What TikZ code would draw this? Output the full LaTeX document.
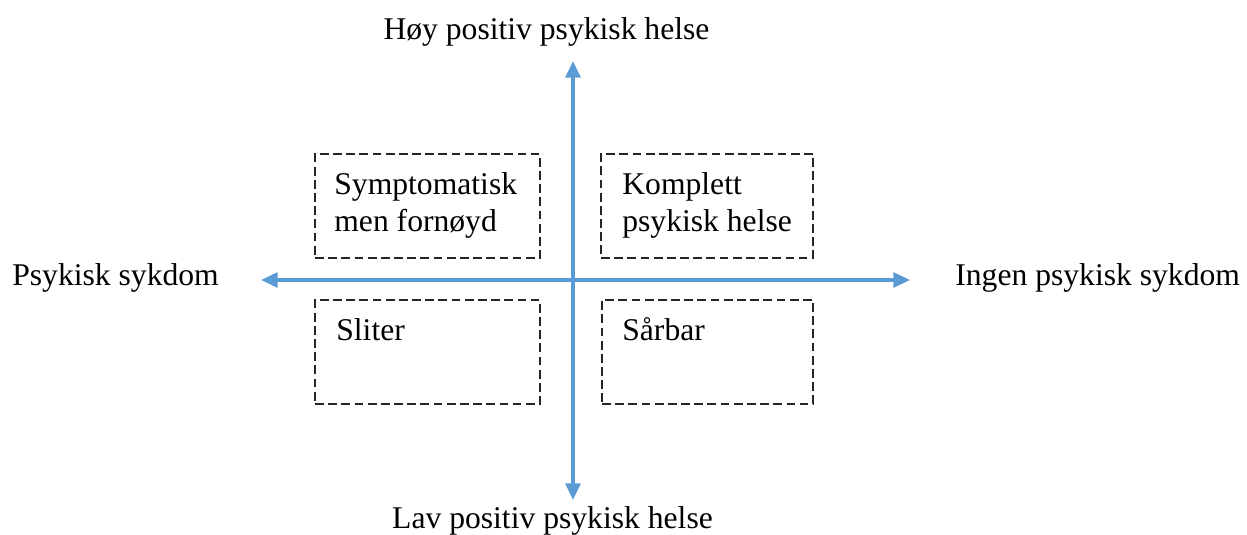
\documentclass[tikz,border=0pt]{standalone}
\usepackage{fontspec}
\setmainfont{Liberation Serif}
\usetikzlibrary{arrows.meta}
\definecolor{axisblue}{RGB}{91,155,213}

\begin{document}
\begin{tikzpicture}[x=0.02cm, y=-0.02cm,
	every node/.style={font=\fontsize{18}{20.7}\selectfont, inner sep=0},
	axis/.style={line width=1.8pt, color=axisblue, {Triangle[length=9.5pt, width=8.5pt]}-{Triangle[length=9.5pt, width=8.5pt]}},
	quadrant/.style={draw=black!85, line width=0.75pt, dash pattern=on 5pt off 2.5pt, minimum height=2.08cm}]
\useasboundingbox (0, 0) rectangle (1247, 534);
% axes
\coordinate (top) at (573, 61);
\coordinate (bottom) at (573, 500);
\coordinate (left) at (261, 280);
\coordinate (right) at (910, 280);
\draw[axis] (bottom) -- (top);
\draw[axis] (left) -- (right);
\node[anchor=base] (high) at (546.5, 39) {Høy positiv psykisk helse};
\node[anchor=base] (low) at (552.5, 528) {Lav positiv psykisk helse};
\node[anchor=base west] (ill) at (12, 285) {Psykisk sykdom};
\node[anchor=base west] (notill) at (955, 285) {Ingen psykisk sykdom};
% quadrants
\node[quadrant, minimum width=4.5cm] (symp) at (427.5, 206) {};
\node[quadrant, minimum width=4.24cm] (complete) at (707, 206) {};
\node[quadrant, minimum width=4.5cm] (struggle) at (427.5, 352) {};
\node[quadrant, minimum width=4.22cm] (vulnerable) at (707.5, 352) {};
% last line sits on the base anchor
\node[anchor=base west, align=left] (symptext) at (334, 231) {Symptomatisk\\men fornøyd};
\node[anchor=base west, align=left] (completetext) at (622, 231) {Komplett\\psykisk helse};
\node[anchor=base west] (struggletext) at (336, 340) {Sliter};
\node[anchor=base west] (vulnerabletext) at (622, 340) {Sårbar};
\end{tikzpicture}
\end{document}
